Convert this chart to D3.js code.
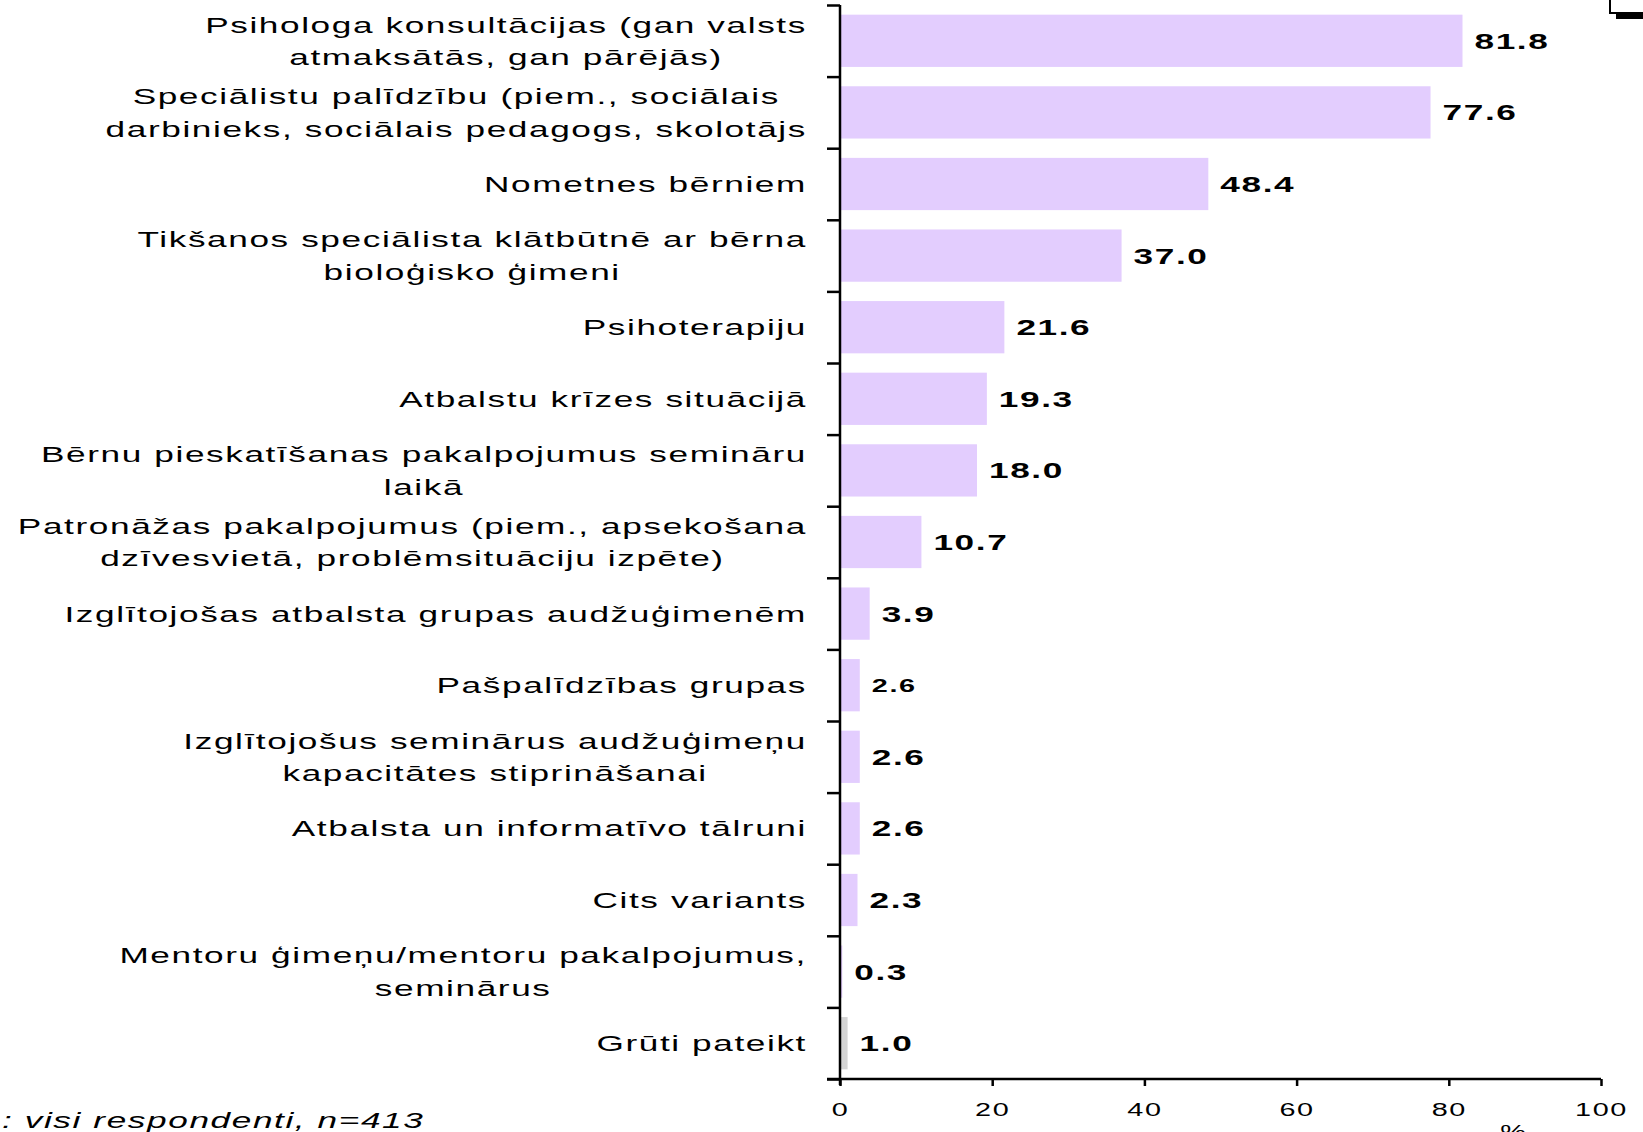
<!DOCTYPE html>
<html>
<head>
<meta charset="utf-8">
<script src="https://cdn.jsdelivr.net/npm/d3@7"></script>
<style>
  body { margin: 0; background: #fff; }
  svg { display: block; font-family: "Liberation Sans", Arial, sans-serif; }
</style>
</head>
<body>
<svg id="chart" width="1643" height="1132"></svg>
<script>
// categories (each entry = lines of the label)
const categories = [
  ["Psihologa konsultācijas (gan valsts", "atmaksātās, gan pārējās)"],
  ["Speciālistu palīdzību (piem., sociālais", "darbinieks, sociālais pedagogs, skolotājs"],
  ["Nometnes bērniem"],
  ["Tikšanos speciālista klātbūtnē ar bērna", "bioloģisko ģimeni"],
  ["Psihoterapiju"],
  ["Atbalstu krīzes situācijā"],
  ["Bērnu pieskatīšanas pakalpojumus semināru", "laikā"],
  ["Patronāžas pakalpojumus (piem., apsekošana", "dzīvesvietā, problēmsituāciju izpēte)"],
  ["Izglītojošas atbalsta grupas audžuģimenēm"],
  ["Pašpalīdzības grupas"],
  ["Izglītojošus seminārus audžuģimeņu", "kapacitātes stiprināšanai"],
  ["Atbalsta un informatīvo tālruni"],
  ["Cits variants"],
  ["Mentoru ģimeņu/mentoru pakalpojumus,", "seminārus"],
  ["Grūti pateikt"]
];
const values = [81.8, 77.6, 48.4, 37.0, 21.6, 19.3, 18.0, 10.7, 3.9, 2.6, 2.6, 2.6, 2.3, 0.3, 1.0];
const xTicks = [0, 20, 40, 60, 80, 100];
const baseNote = ": visi respondenti, n=413";
const unitLabel = "%";

const SX = 1.6;         // horizontal stretch of the picture's text
const LS = 1;           // letter spacing
const purple = "#e3cdfe", grey = "#d4d4d4";

const svg = d3.select("#chart");
const mLeft = 840, mRight = 1601, mTop = 5, mBottom = 1079;

const x = d3.scaleLinear().domain([0, 100]).range([mLeft, mRight]);
const idx = d3.range(categories.length);
const y = d3.scaleBand().domain(idx).range([mTop, mBottom])
    .paddingInner(0.27).paddingOuter(0.135);
const yb = d3.scaleLinear().domain([0, categories.length]).range([mTop, mBottom]);

// bars
svg.append("g").selectAll("rect")
  .data(idx)
  .join("rect")
    .attr("x", x(0))
    .attr("y", i => y(i))
    .attr("width", i => x(values[i]) - x(0))
    .attr("height", y.bandwidth())
    .attr("fill", i => categories[i][0] === "Grūti pateikt" ? grey : purple);

// value labels
svg.append("g").selectAll("text")
  .data(idx)
  .join("text")
    .attr("transform", i => `translate(${x(values[i]) + 12},${y(i) + y.bandwidth() / 2 + (i === 9 ? 6.5 : 8)}) scale(${SX},1)`)
    .attr("font-weight", "bold")
    .attr("font-size", i => i === 9 ? 18 : 22)
    .attr("letter-spacing", LS)
    .text(i => values[i].toFixed(1));

// category labels, lines centred on each other, block right aligned
const labelG = svg.append("g");
idx.forEach(i => {
  const lines = categories[i];
  const g = labelG.append("g");
  const texts = lines.map(t => g.append("text")
      .attr("font-size", 22)
      .attr("letter-spacing", LS)
      .attr("text-anchor", "middle")
      .text(t));
  const maxW = d3.max(texts, t => t.node().getComputedTextLength()) * SX;
  const cx = 807 - maxW / 2;
  const cy = y(i) + y.bandwidth() / 2;
  const lh = 32.5;
  texts.forEach((t, k) => {
    const ly = cy + (k - (lines.length - 1) / 2) * lh + 8;
    t.attr("transform", `translate(${cx},${ly}) scale(${SX},1)`);
  });
});

// y axis with ticks at band boundaries
const yAxis = svg.append("g")
  .attr("transform", `translate(${mLeft},0)`)
  .call(d3.axisLeft(yb).tickValues(d3.range(categories.length + 1)).tickSize(13).tickFormat(""));
yAxis.select(".domain").attr("d", `M0,${mTop}V${mBottom + 6}`);
yAxis.selectAll("line, path").attr("stroke", "#000").attr("stroke-width", 2.5);

// x axis
const xAxis = svg.append("g")
  .attr("transform", `translate(0,${mBottom})`)
  .call(d3.axisBottom(x).tickValues(xTicks).tickSize(7).tickSizeOuter(0).tickPadding(0));
xAxis.select(".domain").attr("d", `M${mLeft - 13},0H${mRight}`);
xAxis.selectAll("line, path").attr("stroke", "#000").attr("stroke-width", 2.5);
xAxis.selectAll("text")
  .attr("y", 0).attr("dy", null)
  .attr("transform", `translate(0,37) scale(${SX},1)`)
  .attr("font-size", 18)
  .attr("letter-spacing", LS)
  .attr("font-family", "Liberation Sans, Arial, sans-serif")
  .attr("fill", "#000");

// unit label under the axis
svg.append("text")
  .attr("transform", `translate(1513,1138) scale(${SX},1)`)
  .attr("text-anchor", "middle")
  .attr("font-size", 18)
  .text(unitLabel);

// base note, bottom left
svg.append("text")
  .attr("transform", `translate(2,1128) scale(${SX},1)`)
  .attr("font-size", 22)
  .attr("font-style", "italic")
  .attr("letter-spacing", LS)
  .text(baseNote);

// corner of the legend box cut by the top edge
svg.append("path")
  .attr("d", "M1610,-2V13H1643")
  .attr("fill", "none").attr("stroke", "#000").attr("stroke-width", 2);
svg.append("rect")
  .attr("x", 1616).attr("y", 14).attr("width", 27).attr("height", 5)
  .attr("fill", "#000");
</script>
</body>
</html>
